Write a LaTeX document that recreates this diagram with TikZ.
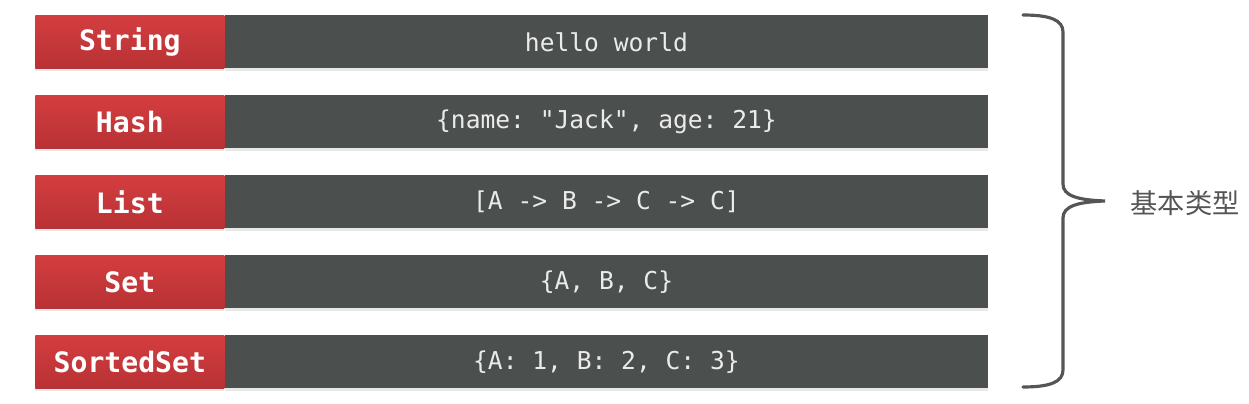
\documentclass[tikz,border=0pt]{standalone}
\usepackage{fontspec}
\setmonofont{DejaVu Sans Mono}
\newfontfamily\cjk{Noto Sans CJK SC}
\usetikzlibrary{positioning, shadows}
\definecolor{redtop}{HTML}{D33E40}
\definecolor{redbot}{HTML}{B83134}
\definecolor{slate}{HTML}{4B504F}
\definecolor{bracegray}{HTML}{555555}

\begin{document}
\begin{tikzpicture}[
    x=0.02cm, y=-0.02cm,
    typebox/.style={
        rectangle, inner sep=0pt, anchor=north west,
        minimum width=3.78cm, minimum height=1.06cm,
        top color=redtop, bottom color=redbot, text=white,
        font=\ttfamily\bfseries\fontsize{16}{18}\selectfont,
        drop shadow={shadow xshift=0pt, shadow yshift=-1.5pt, opacity=0.18}
    },
    valuebox/.style={
        rectangle, inner sep=0pt, fill=slate, text=white!92!black,
        minimum width=15.26cm, minimum height=1.06cm,
        font=\ttfamily\fontsize{14}{16}\selectfont,
        drop shadow={shadow xshift=0pt, shadow yshift=-1.5pt, opacity=0.18}
    },
    bracket/.style={draw=bracegray, line width=1.8pt, line cap=round}
]
    \useasboundingbox (0,0) rectangle (1249,404);

    \foreach \i/\t/\v in {1/String/hello world,
                          2/Hash/{\{name: "Jack", age: 21\}},
                          3/List/{[A -> B -> C -> C]},
                          4/Set/{\{A, B, C\}},
                          5/SortedSet/{\{A: 1, B: 2, C: 3\}}} {
        \node[typebox] (type\i) at (35, {15+80*(\i-1)}) {\t};
        \node[valuebox, right=0pt of type\i] (val\i) {\v};
    }

    % curly bracket on the right
    \draw[bracket] (1023,15) .. controls (1050,15) and (1063,20) .. (1063,32)
        -- (1063,184) .. controls (1063,196) and (1078,200) .. (1105,201)
        .. controls (1078,202) and (1063,206) .. (1063,218)
        -- (1063,370) .. controls (1063,382) and (1050,387) .. (1023,387);

    \node[text=bracegray, font=\cjk\fontsize{15.5}{18}\selectfont] (kind) at (1185,203) {基本类型};
\end{tikzpicture}
\end{document}
